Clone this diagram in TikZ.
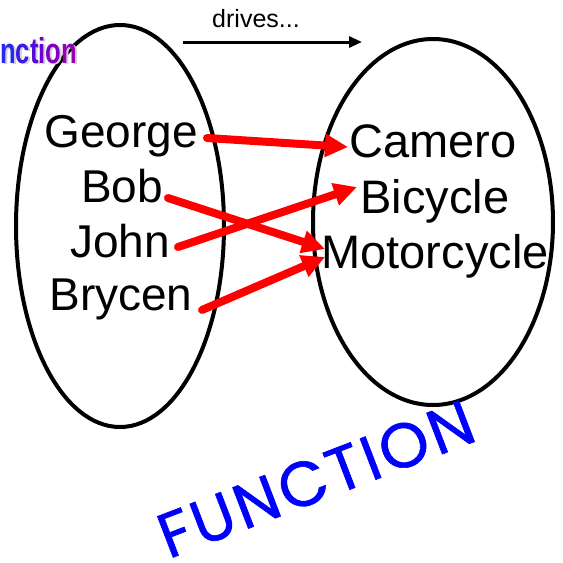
\documentclass[tikz,border=0pt]{standalone}
\usepackage{fontspec}
\setmainfont{Liberation Sans}
\newfontfamily\funfont[FakeBold=1,LetterSpace=5]{Poppins}
\usetikzlibrary{arrows.meta,calc}
\definecolor{redarrow}{RGB}{255,0,0}
\definecolor{fblue}{RGB}{0,0,255}
\definecolor{gA}{RGB}{40,40,240}
\definecolor{gB}{RGB}{60,25,232}
\definecolor{gC}{RGB}{85,10,222}
\definecolor{gD}{RGB}{110,0,212}
\definecolor{gE}{RGB}{128,0,200}
\definecolor{gF}{RGB}{150,0,185}
\definecolor{shadowgray}{RGB}{210,210,210}
\begin{document}
\begin{tikzpicture}[x=1pt,y=-1pt,
  oval/.style={draw=black,line width=4pt},
  leftname/.style={font=\fontsize{46}{46}\selectfont,inner sep=0pt,anchor=base},
  rightname/.style={font=\fontsize{47}{47}\selectfont,inner sep=0pt,anchor=base},
  maparrow/.style={draw=redarrow,line width=8pt,line cap=round,-{Triangle[length=23pt,width=22pt]}},
  titlefont/.style={font=\bfseries\fontsize{36}{36}\selectfont,xscale=0.71,anchor=base east,inner sep=0pt}
]
\useasboundingbox (0,0) rectangle (563,563);
\fill[white] (0,0) rectangle (563,563);

% sets
\draw[oval] (120,226) ellipse [x radius=104, y radius=201];
\draw[oval] (433,222) ellipse [x radius=120, y radius=183];

% title fragment
\node[titlefont,text=shadowgray] (titleshadow) at (79,64) {nction};
\node[titlefont] (title) at (77,63) {\textcolor{gA}{n}\textcolor{gB}{c}\textcolor{gC}{t}\textcolor{gD}{i}\textcolor{gE}{o}\textcolor{gF}{n}};

% drives
\node[font=\fontsize{25}{25}\selectfont,anchor=base,inner sep=0pt] (drives) at (256,27) {drives...};
\coordinate (dS) at (183,42);
\coordinate (dE) at (362,42);
\draw[line width=3pt,-{Triangle[length=13pt,width=11pt]}] (dS) -- (dE);

% domain
\node[leftname] (George) at (121,147) {George};
\node[leftname] (Bob) at (122,202) {Bob};
\node[leftname] (John) at (120,257) {John};
\node[leftname] (Brycen) at (121,310) {Brycen};

% range
\node[rightname] (Camero) at (433,157) {Camero};
\node[rightname] (Bicycle) at (435,213) {Bicycle};
\node[rightname] (Motorcycle) at (435,268) {Motorcycle};

% arrow ends
\coordinate (georgeOut) at (207,138);
\coordinate (bobOut) at (168,198);
\coordinate (johnOut) at (178,247);
\coordinate (brycenOut) at (202,310);
\coordinate (cameroIn) at (348,147);
\coordinate (bicycleIn) at (357,187);
\coordinate (motoInA) at (325,249);
\coordinate (motoInB) at (325,257);

\draw[maparrow] (georgeOut) -- (cameroIn);
\draw[maparrow] (bobOut) -- (motoInA);
\draw[maparrow] (johnOut) -- (bicycleIn);
\draw[maparrow] (brycenOut) -- (motoInB);

% big label
\node[font=\funfont\fontsize{63}{63}\selectfont,text=fblue,rotate=21,inner sep=0pt] (fn) at (316,479) {FUNCTION};
\end{tikzpicture}
\end{document}
